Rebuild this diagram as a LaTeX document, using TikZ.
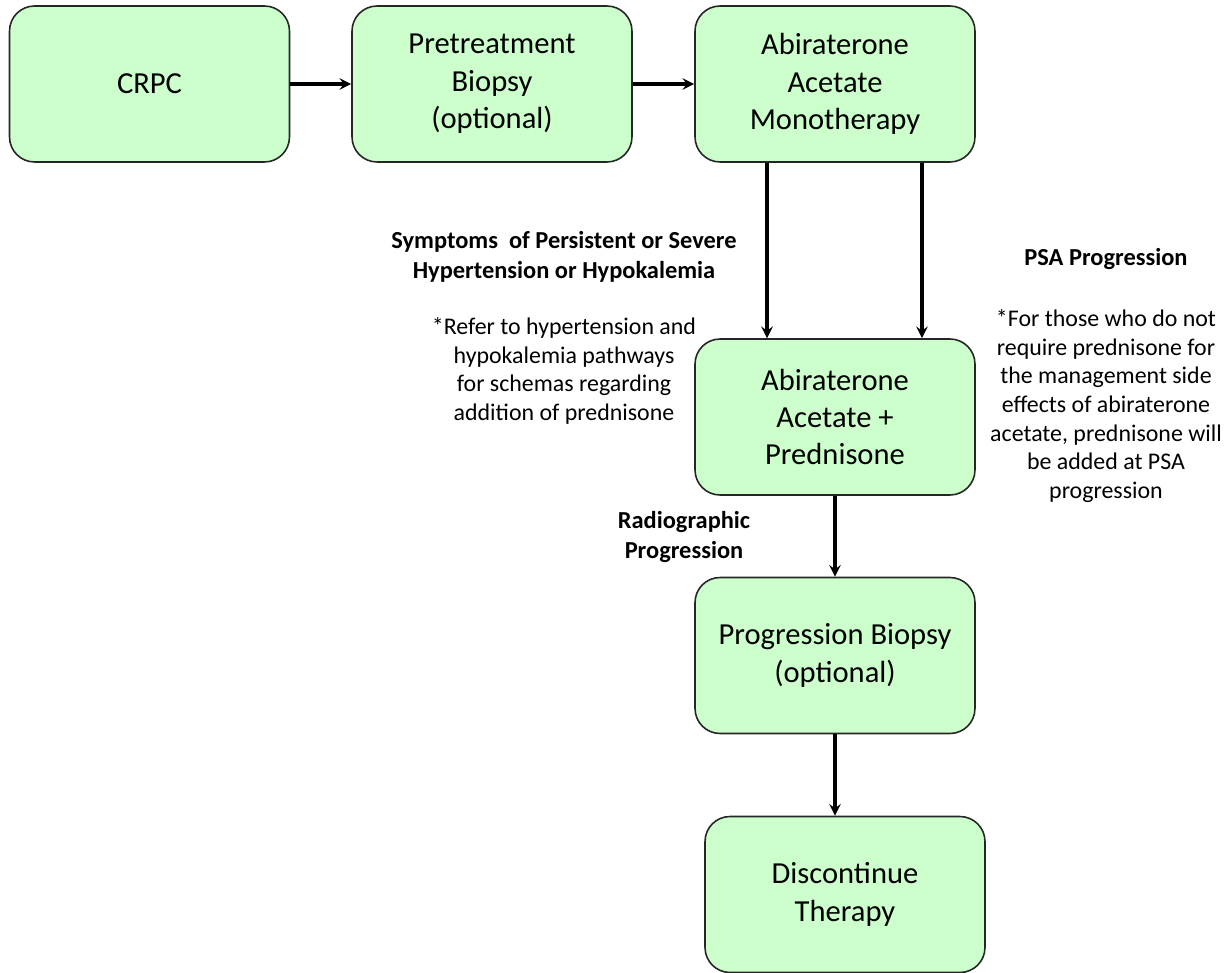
\documentclass[tikz,border=0pt]{standalone}
\usepackage{fontspec}
\setmainfont{Carlito}
\usepackage{xcolor}
\definecolor{boxgreen}{RGB}{204,255,204}

\begin{document}
\begin{tikzpicture}[
            x = 0.02cm, y = -0.02cm, % one unit = one pixel
            > = stealth, % arrow head style
            line width = 1.9pt, % arrow style
            box/.style = {shape=rectangle, rounded corners=0.5cm, draw=black!85,
                          line width=0.9pt, fill=boxgreen, minimum width=5.6cm,
                          minimum height=3.12cm, align=center,
                          font=\fontsize{17.4}{21.3}\selectfont},
            note/.style = {align=center, font=\fontsize{13.6}{16.3}\selectfont},
            head/.style = {align=center, font=\fontsize{13.9}{17}\selectfont\bfseries}
        ]
\useasboundingbox (0,0) rectangle (1231,973);

\node[box] (crpc) at (149.5,84) {CRPC};
\node[box] (pretreat) at (492,84) {Pretreatment\\Biopsy\\(optional)};
\node[box] (mono) at (835,84) {Abiraterone\\Acetate\\Monotherapy};
\node[box] (combo) at (835,417) {Abiraterone\\Acetate +\\Prednisone};
\node[box] (biopsy) at (835,655.5) {Progression Biopsy\\(optional)};
\node[box] (stop) at (845,894.5) {Discontinue\\Therapy};

\node[head] (symptoms) at (564,257) {Symptoms\ \ of Persistent or Severe\\Hypertension or Hypokalemia};
\node[note] (refer) at (564,371) {*Refer to hypertension and\\hypokalemia pathways\\for schemas regarding\\addition of prednisone};
\node[head] (psa) at (1106,259) {PSA Progression};
\node[note] (psanote) at (1106,406) {*For those who do not\\require prednisone for\\the management side\\effects of abiraterone\\acetate, prednisone will\\be added at PSA\\progression};
\node[head] (radio) at (684,537) {Radiographic\\Progression};

 \path [->] (crpc) edge (pretreat);
 \path [->] (pretreat) edge (mono);
  \path [->] ([xshift=-1.36cm]mono.south) edge ([xshift=-1.36cm]combo.north);
  \path [->] ([xshift=1.74cm]mono.south) edge ([xshift=1.74cm]combo.north);
 \path [->] (combo) edge (biopsy);
 \path [->] (biopsy.south) edge (biopsy.south |- stop.north);
\end{tikzpicture}
\end{document}
